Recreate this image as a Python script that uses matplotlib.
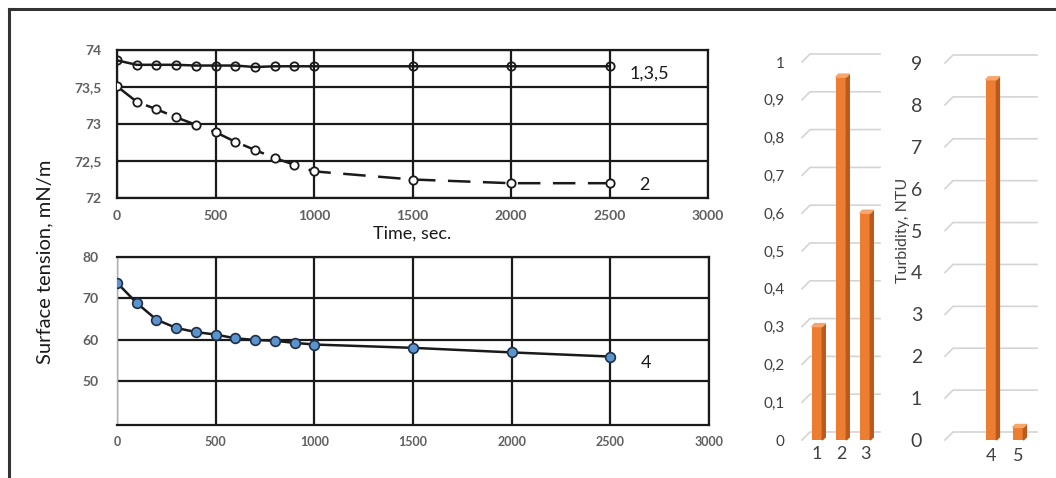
import numpy as np, matplotlib.pyplot as plt
from matplotlib.patches import Polygon
from matplotlib.lines import Line2D

W, H = 1056, 478
INK, GREY_TXT, GRID_LT = "#1a1a1a", "#5f5f5f", "#d4d4d4"
ORANGE, ORANGE_DK, ORANGE_LT = "#ED7D31", "#B85A1E", "#F6A66B"
BLUE = "#5b93cc"
plt.rcParams.update({"font.family": ["Lato", "DejaVu Sans"]})

# --- data ---
t = [0, 100, 200, 300, 400, 500, 600, 700, 800, 900, 1000, 1500, 2000, 2500]
st_135 = [73.86, 73.80, 73.80, 73.80, 73.79, 73.79, 73.79, 73.77, 73.78, 73.78, 73.78, 73.78, 73.78, 73.78]
st_2 = [73.51, 73.30, 73.20, 73.09, 72.99, 72.89, 72.76, 72.65, 72.54, 72.45, 72.36, 72.25, 72.20, 72.20]
st_4 = [73.8, 68.9, 64.9, 62.9, 61.9, 61.3, 60.4, 60.0, 59.8, 59.3, 58.9, 58.1, 57.0, 56.0]
x_ticks = [0, 500, 1000, 1500, 2000, 2500, 3000]
top_yticks = [72, 72.5, 73, 73.5, 74]
top_ylabels = ["72", "72,5", "73", "73,5", "74"]
bot_yticks = [50, 60, 70, 80]

turb_a_cat = ["1", "2", "3"]
turb_a_val = [0.30, 0.96, 0.60]
turb_a_ticks = [0, 0.1, 0.2, 0.3, 0.4, 0.5, 0.6, 0.7, 0.8, 0.9, 1.0]
turb_a_labels = ["0", "0,1", "0,2", "0,3", "0,4", "0,5", "0,6", "0,7", "0,8", "0,9", "1"]
turb_b_cat = ["4", "5"]
turb_b_val = [8.6, 0.3]
turb_b_ticks = list(range(10))

fig = plt.figure(figsize=(W / 100, H / 100), dpi=100)

def px_axes(l, t_, r, b):
    return fig.add_axes([l / W, 1 - b / H, (r - l) / W, (b - t_) / H])

def style_line_ax(ax):
    ax.grid(True, color=INK, lw=1.6, zorder=1)
    for s in ax.spines.values():
        s.set_color(INK); s.set_linewidth(1.6)
    ax.tick_params(length=0, labelsize=10, labelcolor=GREY_TXT)
    for lab in ax.get_xticklabels() + ax.get_yticklabels():
        lab.set_fontweight("bold")
    ax.set_axisbelow(True)

# --- top line chart: series 1,3,5 and 2 ---
ax1 = px_axes(117, 50, 708, 198)
ax1.plot(t, st_135, color=INK, lw=1.8, marker="o", ms=6, mfc="none", mec=INK, mew=1.3, zorder=3)
ax1.plot(t, st_2, color=INK, lw=1.8, ls=(0, (9, 5)), marker="o", ms=6, mfc="white", mec=INK, mew=1.3, zorder=3)
ax1.set_xlim(0, 3000); ax1.set_ylim(72, 74)
ax1.set_xticks(x_ticks); ax1.set_yticks(top_yticks, top_ylabels)
style_line_ax(ax1)
ax1.tick_params(axis="x", pad=9); ax1.tick_params(axis="y", pad=11)
ax1.set_xlabel("Time, sec.", fontsize=13, color=INK, labelpad=2)
ax1.annotate("1,3,5", (t[-1], st_135[-1]), xytext=(20, -7), textcoords="offset pixels",
             fontsize=13, color=INK, va="center", ha="left")
ax1.annotate("2", (t[-1], st_2[-1]), xytext=(30, -2), textcoords="offset pixels",
             fontsize=13, color=INK, va="center", ha="left")

# --- bottom line chart: series 4 ---
ax2 = px_axes(117, 257, 709, 425)
ax2.plot(t, st_4, color=INK, lw=1.8, marker="o", ms=7, mfc=BLUE, mec="#1f2f4a", mew=1.2, zorder=3)
ax2.set_xlim(0, 3000); ax2.set_ylim(39.5, 80)
ax2.set_xticks(x_ticks); ax2.set_yticks(bot_yticks)
style_line_ax(ax2)
ax2.spines["left"].set_color("#b0b0b0"); ax2.spines["left"].set_linewidth(1.0)
ax2.tick_params(axis="x", pad=8, labelsize=9); ax2.tick_params(axis="y", pad=13)
ax2.annotate("4", (t[-1], st_4[-1]), xytext=(30, -6), textcoords="offset pixels",
             fontsize=13, color=INK, va="center", ha="left")

fig.text(45 / W, 1 - 262 / H, "Surface tension, mN/m", rotation=90, fontsize=14.5,
         color=INK, ha="center", va="center")

# --- pseudo-3D column charts ---
def bar3d(ax, cats, vals, ticks, labels, grid_x, kx, ky, w, pad):
    dgx, dgy = 8 * kx, 8 * ky  # back-wall depth offset
    x0, x1 = grid_x
    for v in ticks:
        ax.plot([x0, x0 + dgx, x1], [v, v + dgy, v + dgy], color=GRID_LT, lw=1.2, zorder=1)
    pos = np.arange(1, len(vals) + 1) if cats[0] == "1" else np.arange(4, 4 + len(vals))
    sx, sy = 3 * kx, 3 * ky
    ax.bar(pos, vals, width=w, color=ORANGE, zorder=3)
    for p, v in zip(pos, vals):
        r = p + w / 2
        ax.add_patch(Polygon([(r, 0), (r + sx, sy), (r + sx, v + sy), (r, v)], color=ORANGE_DK, zorder=3))
        ax.add_patch(Polygon([(p - w / 2, v), (r, v), (r + sx, v + sy), (p - w / 2 + sx, v + sy)],
                             color=ORANGE_LT, zorder=3))
    ax.set_xticks(pos, cats)
    ax.set_yticks(ticks, labels)
    for s in ax.spines.values():
        s.set_visible(False)
    ax.tick_params(length=0, colors=INK)
    ax.tick_params(axis="y", pad=pad)
    ax.tick_params(axis="x", pad=1)
    ax.patch.set_alpha(0)

# left: 1,2,3 (0..1)
axa = px_axes(800, 40, 885, 445)
axa.set_xlim(1 - 17 / 24, 1 + 68 / 24); axa.set_ylim(-5 / 378, 1 + 22 / 378)
bar3d(axa, turb_a_cat, turb_a_val, turb_a_ticks, turb_a_labels,
      (1 - 15 / 24, 1 + 63 / 24), 1 / 24, 1 / 378, 0.44, 11)
axa.tick_params(axis="y", labelsize=11, labelcolor="#404040")
axa.tick_params(axis="x", labelsize=13, labelcolor="#404040")

# right: 4,5 (0..9)
axb = px_axes(943, 40, 1040, 447)
axb.set_xlim(4 - 48 / 27, 5 + 22 / 27); axb.set_ylim(-7 / 41.9, 9 + 23 / 41.9)
bar3d(axb, turb_b_cat, turb_b_val, turb_b_ticks, [str(v) for v in turb_b_ticks],
      (4 - 46 / 27, 5 + 19 / 27), 1 / 27, 1 / 41.9, 0.40, 15)
axb.tick_params(axis="y", labelsize=14, labelcolor="#404040")
axb.tick_params(axis="x", labelsize=13, labelcolor="#404040")
fig.text(903 / W, 1 - 230 / H, "Turbidity, NTU", rotation=90, fontsize=11.5,
         color="#404040", ha="center", va="center")

# --- outer frame (top and left edges only) ---
fig.add_artist(Line2D([9 / W, 9 / W], [0, 1 - 9 / H], color="#333333", lw=2.2))
fig.add_artist(Line2D([9 / W, 1], [1 - 9 / H, 1 - 9 / H], color="#333333", lw=2.2))

fig.savefig("out.png", dpi=100, facecolor="white")
